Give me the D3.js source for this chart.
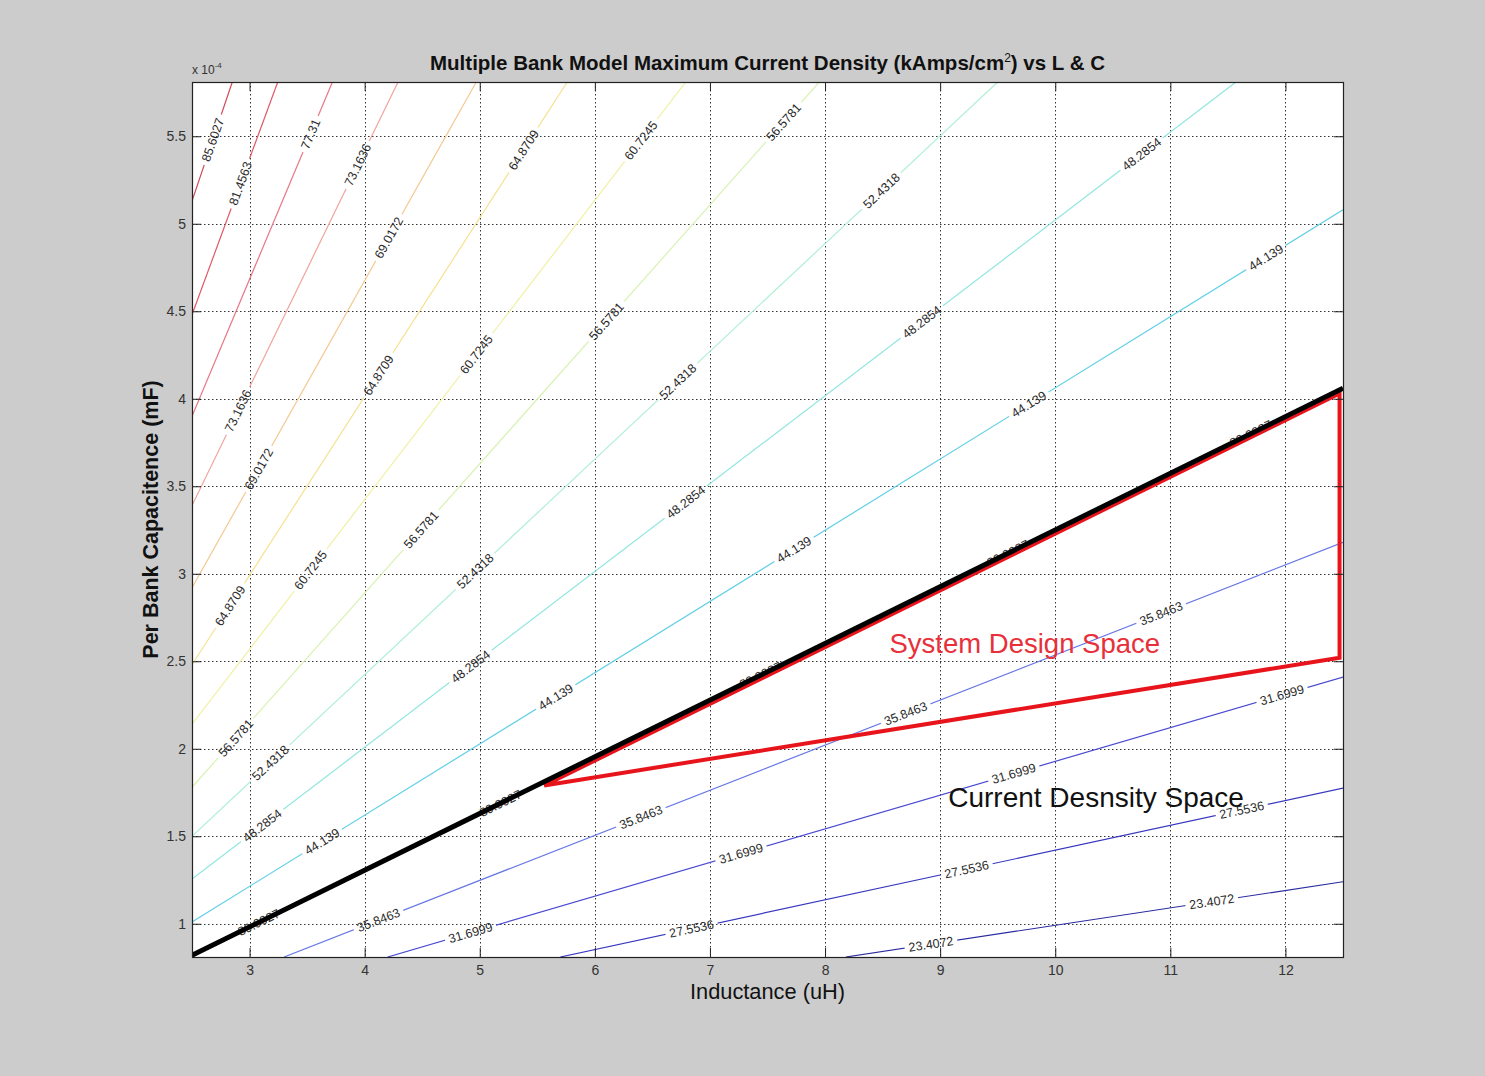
<!DOCTYPE html>
<html>
<head>
<meta charset="utf-8">
<script src="https://cdn.jsdelivr.net/npm/d3@7/dist/d3.min.js"></script>
<style>
  body { margin: 0; background: #cccccc; }
  svg { display: block; font-family: "Liberation Sans", Arial, Helvetica, sans-serif; }
</style>
</head>
<body>
<div id="contour-chart"></div>
<script>
// contour levels in kAmps/cm^2, lowest first (as clabel printed them)
const levelLabels = ["23.4072", "27.5536", "31.6999", "35.8463", "39.9927", "44.139", "48.2854", "52.4318",
                     "56.5781", "60.7245", "64.8709", "69.0172", "73.1636", "77.31", "81.4563", "85.6027"];

// every contour is a near straight run, [inductance uH, capacitance x1e-4]
const lineStart = [[8.18, 0.81], [5.70, 0.81], [4.20, 0.81], [3.30, 0.81], [2.50, 0.82], [2.50, 1.01],
                   [2.50, 1.255], [2.50, 1.50], [2.50, 1.78], [2.50, 2.14], [2.50, 2.48], [2.50, 2.92],
                   [2.50, 3.39], [2.50, 3.90], [2.50, 4.48], [2.50, 5.13]];
const lineEnd = [[12.5, 1.24], [12.5, 1.775], [12.5, 2.41], [12.5, 3.18], [12.5, 4.06], [12.5, 5.08],
                 [11.57, 5.81], [9.50, 5.81], [7.95, 5.81], [6.79, 5.81], [5.76, 5.81], [4.97, 5.81],
                 [4.29, 5.81], [3.72, 5.81], [3.245, 5.81], [2.85, 5.81]];

// inductance where each inline label sits on its contour
const labelAt = [
    [8.92, 11.36],
    [6.84, 9.23, 11.62],
    [4.92, 7.27, 9.64, 11.97],
    [4.12, 6.40, 8.70, 10.92],
    [3.08, 5.18, 7.44, 9.59, 11.7],
    [3.63, 5.66, 7.73, 9.77, 11.83],
    [3.11, 4.92, 6.79, 8.84, 10.75],
    [3.18, 4.96, 6.72, 8.49],
    [2.88, 4.49, 6.10, 7.64],
    [3.53, 4.97, 6.40],
    [2.83, 4.12, 5.38],
    [3.08, 4.21],
    [2.90, 3.94],
    [3.53],
    [2.92],
    [2.68]
];

const xTicks = [3, 4, 5, 6, 7, 8, 9, 10, 11, 12];
const yTicks = [1, 1.5, 2, 2.5, 3, 3.5, 4, 4.5, 5, 5.5];

// the hand drawn overlays
const boundaryLine = [[2.5, 0.82], [12.5, 4.06]];
const designSpace = [[5.56, 1.79], [12.47, 4.03], [12.47, 2.52]];
const noteText = ["System Design Space", "Current Desnsity Space"];
const notePos = [[8.56, 2.55], [9.07, 1.67]];

function chart() {
    const width = 1485,
        height = 1076;
    const plot = {left: 192, right: 1343, top: 82, bottom: 957};

    // washed out jet, one colour per level
    const jet = ["#2a2aa0", "#3838c0", "#4a4ad2", "#6878e4", "#4aa0f0", "#62cfe6", "#90e6e0", "#b0f0d4",
                 "#d8f2b4", "#f0f0a4", "#f4e290", "#f4c892", "#f0a49c", "#e87684", "#e05868", "#d0485a"];
    const color = d3.scaleOrdinal(levelLabels, jet);

    const x = d3.scaleLinear().domain([2.5, 12.5]).range([plot.left, plot.right]);
    const y = d3.scaleLinear().domain([0.81, 5.81]).range([plot.bottom, plot.top]);

    const svg = d3.select("#contour-chart").append("svg")
        .attr("width", width)
        .attr("height", height);

    svg.append("rect")
        .attr("width", width)
        .attr("height", height)
        .attr("fill", "#cccccc");

    const defs = svg.append("defs");
    defs.append("clipPath").attr("id", "plot-clip")
        .append("rect")
        .attr("x", plot.left)
        .attr("y", plot.top)
        .attr("width", plot.right - plot.left)
        .attr("height", plot.bottom - plot.top);

    svg.append("rect")
        .attr("x", plot.left)
        .attr("y", plot.top)
        .attr("width", plot.right - plot.left)
        .attr("height", plot.bottom - plot.top)
        .attr("fill", "white");

    // dotted grid
    const grid = svg.append("g")
        .attr("stroke", "#333")
        .attr("stroke-width", 1)
        .attr("stroke-dasharray", "1.5,2.5");
    grid.selectAll("line.gx").data(xTicks)
        .join("line")
        .attr("class", "gx")
        .attr("x1", d => Math.round(x(d)) + 0.5)
        .attr("x2", d => Math.round(x(d)) + 0.5)
        .attr("y1", plot.top)
        .attr("y2", plot.bottom);
    grid.selectAll("line.gy").data(yTicks)
        .join("line")
        .attr("class", "gy")
        .attr("y1", d => Math.round(y(d)) + 0.5)
        .attr("y2", d => Math.round(y(d)) + 0.5)
        .attr("x1", plot.left)
        .attr("x2", plot.right);

    // labels positioned along their contour
    const labelData = [];
    levelLabels.forEach(function(lev, i) {
        const [l0, c0] = lineStart[i], [l1, c1] = lineEnd[i];
        const angle = Math.atan2(y(c1) - y(c0), x(l1) - x(l0)) * 180 / Math.PI;
        labelAt[i].forEach(function(l) {
            const t = (l - l0) / (l1 - l0);
            labelData.push({level: lev, x: x(l), y: y(c0 + t * (c1 - c0)), angle: angle});
        });
    });

    const mask = defs.append("mask")
        .attr("id", "label-gaps")
        .attr("maskUnits", "userSpaceOnUse")
        .attr("x", 0).attr("y", 0)
        .attr("width", width).attr("height", height);
    mask.append("rect")
        .attr("width", width)
        .attr("height", height)
        .attr("fill", "white");

    const contours = svg.append("g")
        .attr("clip-path", "url(#plot-clip)")
        .append("g")
        .attr("mask", "url(#label-gaps)")
        .attr("fill", "none")
        .attr("stroke-width", 1.2);

    contours.selectAll("line").data(levelLabels)
        .join("line")
        .attr("stroke", d => color(d))
        .attr("x1", (d, i) => x(lineStart[i][0]))
        .attr("y1", (d, i) => y(lineStart[i][1]))
        .attr("x2", (d, i) => x(lineEnd[i][0]))
        .attr("y2", (d, i) => y(lineEnd[i][1]));

    const labels = svg.append("g")
        .attr("font-size", 12.5)
        .attr("fill", "#2a2a2a")
        .attr("text-anchor", "middle");

    labels.selectAll("text").data(labelData)
        .join("text")
        .attr("transform", d => `translate(${d.x},${d.y}) rotate(${d.angle})`)
        .attr("dy", "0.35em")
        .text(d => d.level)
        .each(function(d) { d.w = this.getComputedTextLength(); });

    mask.selectAll("rect.gap").data(labelData)
        .join("rect")
        .attr("class", "gap")
        .attr("fill", "black")
        .attr("x", d => -d.w / 2 - 4)
        .attr("y", -7)
        .attr("width", d => d.w + 8)
        .attr("height", 14)
        .attr("transform", d => `translate(${d.x},${d.y}) rotate(${d.angle})`);

    // red design space triangle, then the black limit line on top
    const line = d3.line().x(d => x(d[0])).y(d => y(d[1]));

    svg.append("path")
        .attr("d", line(designSpace) + "Z")
        .attr("fill", "none")
        .attr("stroke", "#e8141c")
        .attr("stroke-width", 4)
        .attr("stroke-linejoin", "miter");

    svg.append("path")
        .attr("d", line(boundaryLine))
        .attr("fill", "none")
        .attr("stroke", "black")
        .attr("stroke-width", 5)
        .attr("clip-path", "url(#plot-clip)");

    svg.append("text")
        .attr("x", x(notePos[0][0]))
        .attr("y", y(notePos[0][1]))
        .attr("font-size", 27.5)
        .attr("fill", "#e8303a")
        .text(noteText[0]);

    svg.append("text")
        .attr("x", x(notePos[1][0]))
        .attr("y", y(notePos[1][1]))
        .attr("font-size", 28)
        .attr("fill", "#111")
        .text(noteText[1]);

    // axes with inward ticks on all four sides
    const axisStyle = g => {
        g.select(".domain").remove();
        g.selectAll(".tick line").attr("stroke", "#222");
        g.selectAll(".tick text").attr("fill", "#333").attr("font-size", 14);
    };

    svg.append("g")
        .attr("transform", `translate(0,${plot.bottom})`)
        .call(d3.axisBottom(x).tickValues(xTicks).tickSize(-9).tickPadding(8).tickFormat(d3.format("d")))
        .call(axisStyle);
    svg.append("g")
        .attr("transform", `translate(0,${plot.top})`)
        .call(d3.axisTop(x).tickValues(xTicks).tickSize(-9).tickFormat(""))
        .call(axisStyle);
    svg.append("g")
        .attr("transform", `translate(${plot.left},0)`)
        .call(d3.axisLeft(y).tickValues(yTicks).tickSize(-9).tickPadding(6).tickFormat(d3.format("")))
        .call(axisStyle);
    svg.append("g")
        .attr("transform", `translate(${plot.right},0)`)
        .call(d3.axisRight(y).tickValues(yTicks).tickSize(-9).tickFormat(""))
        .call(axisStyle);

    svg.selectAll("g").attr("font-family", null);

    svg.append("rect")
        .attr("x", plot.left + 0.5)
        .attr("y", plot.top + 0.5)
        .attr("width", plot.right - plot.left)
        .attr("height", plot.bottom - plot.top)
        .attr("fill", "none")
        .attr("stroke", "#222")
        .attr("stroke-width", 1.2);

    // exponent tag
    const expo = svg.append("text")
        .attr("x", plot.left)
        .attr("y", 74)
        .attr("font-size", 12)
        .attr("fill", "#333");
    expo.append("tspan").text("x 10");
    expo.append("tspan").attr("dy", -6).attr("font-size", 8).text("-4");

    const title = svg.append("text")
        .attr("x", (plot.left + plot.right) / 2)
        .attr("y", 70)
        .attr("text-anchor", "middle")
        .attr("font-size", 20.5)
        .attr("font-weight", "bold")
        .attr("fill", "#111");
    title.append("tspan").text("Multiple Bank Model Maximum Current Density (kAmps/cm");
    title.append("tspan").attr("dy", -8).attr("font-size", 12).attr("font-weight", "normal").text("2");
    title.append("tspan").attr("dy", 8).text(") vs L & C");

    svg.append("text")
        .attr("x", (plot.left + plot.right) / 2)
        .attr("y", 999)
        .attr("text-anchor", "middle")
        .attr("font-size", 21.8)
        .attr("fill", "#111")
        .text("Inductance (uH)");

    svg.append("text")
        .attr("transform", `translate(158,${(plot.top + plot.bottom) / 2}) rotate(-90)`)
        .attr("text-anchor", "middle")
        .attr("font-size", 21.5)
        .attr("font-weight", "bold")
        .attr("fill", "#111")
        .text("Per Bank Capacitence (mF)");

    return svg;
}

chart();
</script>
</body>
</html>
